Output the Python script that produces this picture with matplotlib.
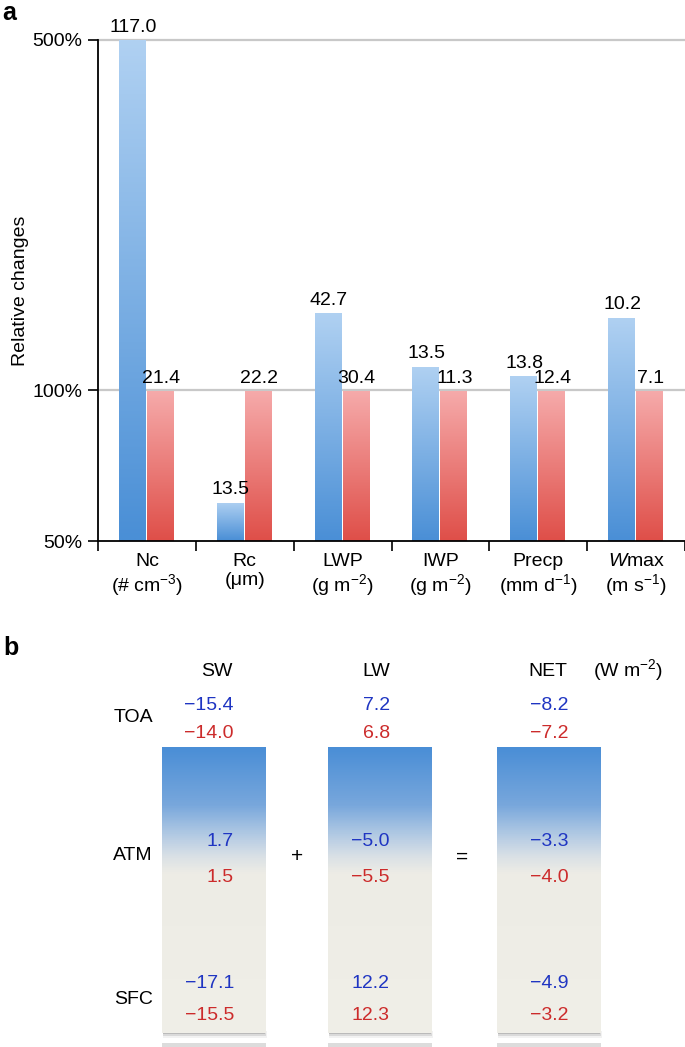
import numpy as np
import matplotlib
matplotlib.use('Agg')
import matplotlib.pyplot as plt
from matplotlib.colors import LinearSegmentedColormap
from matplotlib.patches import Rectangle

plt.rcParams['font.family'] = ['Liberation Sans', 'DejaVu Sans']
plt.rcParams['mathtext.fontset'] = 'custom'
plt.rcParams['mathtext.rm'] = 'Liberation Sans'
plt.rcParams['mathtext.it'] = 'Liberation Sans:italic'

# ---- panel a data ----
categories = ['Nc', 'Rc', 'LWP', 'IWP', 'Precp', '$W$max']
units = ['(# cm$^{-3}$)', '(\u03bcm)', '(g m$^{-2}$)', '(g m$^{-2}$)',
         '(mm d$^{-1}$)', '(m s$^{-1}$)']
blue_pct = [500, 59.8, 142.7, 111.7, 106.8, 139.7]   # relative change, %
red_pct = [100, 100, 100, 100, 100, 100]
blue_labels = ['117.0', '13.5', '42.7', '13.5', '13.8', '10.2']
red_labels = ['21.4', '22.2', '30.4', '11.3', '12.4', '7.1']

# ---- panel b data ----
flux_cols = ['SW', 'LW', 'NET']
levels = ['TOA', 'ATM', 'SFC']
blue_flux = [[-15.4, 7.2, -8.2], [1.7, -5.0, -3.3], [-17.1, 12.2, -4.9]]
red_flux = [[-14.0, 6.8, -7.2], [1.5, -5.5, -4.0], [-15.5, 12.3, -3.2]]

BLUE_TXT = '#1f35c2'
RED_TXT = '#cc2b2b'
FS = 14

fig = plt.figure(figsize=(6.85, 10.47), dpi=100)

# background axes in pixel coordinates for panel b
ax2 = fig.add_axes([0, 0, 1, 1])
ax2.set_xlim(0, 685)
ax2.set_ylim(1047, 0)
ax2.axis('off')

# panel a axes
ax = fig.add_axes([98 / 685, 1 - 541 / 1047, 1 - 98 / 685, (541 - 40) / 1047])
ax.set_yscale('log')


def grad_bar(ax, patch, c_top, c_bot):
    x0, y0 = patch.get_x(), patch.get_y()
    x1, y1 = x0 + patch.get_width(), y0 + patch.get_height()
    ys = np.linspace(y0, y1, 300)
    t = (np.log(ys) - np.log(y0)) / (np.log(y1) - np.log(y0))
    cmap = LinearSegmentedColormap.from_list('g', [c_bot, c_top])
    im = ax.imshow(t[:, None], extent=[x0, x1, y0, y1], origin='lower',
                   aspect='auto', cmap=cmap, vmin=0, vmax=1, zorder=2)
    im.set_clip_path(patch)
    patch.set_facecolor('none')
    patch.set_linewidth(0)


x = np.arange(len(categories)) + 0.5
w = 0.286
bottom = 50
bb = ax.bar(x - w / 2, np.array(blue_pct) - bottom, w, bottom=bottom, zorder=2)
rb = ax.bar(x + w / 2, np.array(red_pct) - bottom, w, bottom=bottom, zorder=2)
for p in bb:
    grad_bar(ax, p, '#b0d1f2', '#4a8fd6')
for p in rb:
    grad_bar(ax, p, '#f6abab', '#df4f49')

for xi, h, lab in zip(x - w / 2, blue_pct, blue_labels):
    ax.annotate(lab, (xi, h), xytext=(0, 3), textcoords='offset points',
                ha='center', va='bottom', fontsize=FS, annotation_clip=False)
for xi, h, lab in zip(x + w / 2, red_pct, red_labels):
    ax.annotate(lab, (xi, h), xytext=(0, 2), textcoords='offset points',
                ha='center', va='bottom', fontsize=FS, annotation_clip=False)

for g in [100, 500]:
    ax.axhline(g, color='#c8c8c8', lw=1.6, zorder=1, clip_on=False)

ax.set_xlim(0, len(categories))
ax.set_ylim(50, 500)
ax.set_yticks([50, 100, 500])
ax.set_yticklabels(['50%', '100%', '500%'], fontsize=FS)
ax.yaxis.set_minor_locator(matplotlib.ticker.NullLocator())
ax.set_xticks(np.arange(len(categories) + 1))
ax.set_xticklabels([])
ax.set_xticks(x, minor=True)
ax.set_xticklabels([c + '\n' + u for c, u in zip(categories, units)],
                   minor=True, fontsize=FS, linespacing=1.1)
ax.tick_params(axis='x', which='minor', length=0, pad=9)
ax.tick_params(axis='both', which='major', length=7, width=1.2, direction='out')
ax.tick_params(axis='y', which='major', pad=4)
for s in ['top', 'right']:
    ax.spines[s].set_visible(False)
for s in ['left', 'bottom']:
    ax.spines[s].set_linewidth(1.3)
ax.set_ylabel('Relative changes', fontsize=14)
ax.yaxis.set_label_coords(-0.117, 0.5)

fig.text(0.004, 0.999, 'a', fontsize=18, fontweight='bold', va='top', ha='left')

# ---- panel b ----
ax2.text(3, 648, 'b', fontsize=18, fontweight='bold', va='center', ha='left')

box_left = [162, 328, 497]
box_w = 104
box_top, box_bot = 747, 1033
head_x = [217, 376, 548]
num_right = [234, 390, 569]
level_y = [717, 855, 1000]
blue_y = [705, 842, 983]
red_y = [733, 878, 1016]

box_cmap = LinearSegmentedColormap.from_list(
    'box', [(0.0, '#4a8ed6'), (0.2, '#78a7dc'), (0.3, '#afc8e3'),
            (0.38, '#d9e0e6'), (0.44, '#edece5'), (1.0, '#f0efe8')])
grad = np.linspace(0, 1, 400)[:, None]
for x0 in box_left:
    # soft shadow
    for k, a in enumerate([0.35, 0.2, 0.1]):
        ax2.add_patch(Rectangle((x0 + 1, box_bot - 2), box_w - 2 + k, 3 + 2 * k,
                                color='#808080', alpha=a, lw=0, zorder=1))
    ax2.imshow(grad, extent=[x0, x0 + box_w, box_bot, box_top], origin='upper',
               aspect='auto', cmap=box_cmap, zorder=2)
    ax2.add_patch(Rectangle((x0, 1043), box_w, 6, color='#dcdcdc', lw=0, zorder=1))

for hx, name in zip(head_x, flux_cols):
    ax2.text(hx, 671, name, fontsize=FS, ha='center', va='center', zorder=3)
ax2.text(628, 670, '(W m$^{-2}$)', fontsize=FS, ha='center', va='center', zorder=3)

for ly, name in zip(level_y, levels):
    ax2.text(153, ly, name, fontsize=FS, ha='right', va='center', zorder=3)

for i in range(len(levels)):
    for j in range(len(flux_cols)):
        ax2.text(num_right[j], blue_y[i], f'{blue_flux[i][j]:.1f}'.replace('-', '\u2212'),
                 fontsize=FS, color=BLUE_TXT, ha='right', va='center', zorder=3)
        ax2.text(num_right[j], red_y[i], f'{red_flux[i][j]:.1f}'.replace('-', '\u2212'),
                 fontsize=FS, color=RED_TXT, ha='right', va='center', zorder=3)

ax2.text(297, 857, '+', fontsize=FS + 1, ha='center', va='center', zorder=3)
ax2.text(462, 857, '=', fontsize=FS + 1, ha='center', va='center', zorder=3)

ax2.set_xlim(0, 685)
ax2.set_ylim(1047, 0)

fig.savefig('out.png', dpi=100)
